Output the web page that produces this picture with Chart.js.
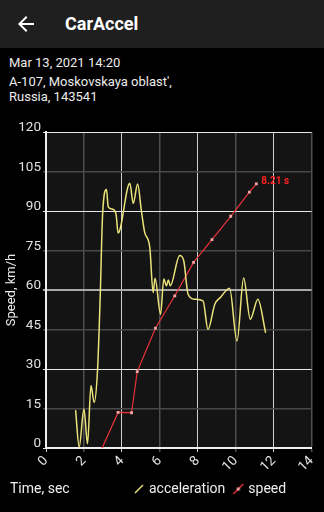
<!DOCTYPE html>
<html>
<head>
<meta charset="utf-8">
<script src="https://cdn.jsdelivr.net/npm/chart.js@4"></script>
<style>
html, body { margin: 0; padding: 0; background: #000; width: 324px; height: 512px; overflow: hidden; font-family: Roboto, sans-serif; color: #ececec; }
.bar { position: absolute; left: 0; top: 0; width: 324px; height: 48px; background: #1f1f1f; }
.bar svg { position: absolute; left: 14px; top: 12px; }
.bar .title { position: absolute; left: 65px; top: 12px; font-size: 18px; font-weight: bold; color: #fff; line-height: 24px; }
.info { position: absolute; left: 9px; font-size: 13px; line-height: 15px; }
#wrap { position: absolute; left: 0; top: 112px; width: 324px; height: 400px; }
</style>
</head>
<body>
<div class="bar">
  <svg width="24" height="24" viewBox="0 0 24 24"><path fill="#fff" d="M20 11H7.83l5.59-5.59L12 4l-8 8 8 8 1.41-1.41L7.83 13H20v-2z"/></svg>
  <span class="title">CarAccel</span>
</div>
<div class="info" style="top:55px">Mar 13, 2021 14:20</div>
<div class="info" style="top:74px">A-107, Moskovskaya oblast',<br>Russia, 143541</div>
<div id="wrap"><canvas id="myChart"></canvas></div>
<script>
// acceleration curve (time in s, plotted on the speed axis)
const accelTime = [1.56, 1.75, 2.0, 2.19, 2.37, 2.54, 2.72, 2.86, 2.98, 3.19, 3.28, 3.54, 3.7, 3.8, 4.42, 4.6, 4.83, 5.03, 5.2, 5.47, 5.65, 5.75, 6.04, 6.21, 6.35, 6.45, 6.55, 7.05, 7.26, 7.49, 7.84, 8.28, 8.54, 8.9, 9.2, 9.68, 10.07, 10.42, 10.77, 11.17, 11.58];
const accelValue = [14.4, 0.4, 14.8, 1.6, 23.7, 17.3, 30, 58, 88, 98.2, 91.6, 90.6, 88.4, 81.6, 100.5, 92.9, 100.3, 90, 82, 76.3, 59, 64.5, 50.8, 64.2, 61.6, 63.8, 61.6, 73.1, 71.2, 58.4, 56.5, 55.9, 45, 54.6, 57.2, 60.7, 40.6, 64.6, 48.9, 56.5, 43.7];

// speed samples
const speedTime = [2.96, 3.8, 4.51, 4.81, 5.77, 6.79, 7.78, 8.75, 9.74, 10.72, 11.09];
const speedValue = [0, 13.5, 13.4, 29.0, 45.5, 57.8, 70.5, 79.1, 88.0, 97.2, 100.3];
const speedLabel = '8.21 s';

const X_MAX = 14, X_STEP = 2;
const Y_MAX = 120, Y_STEP = 15;

function makeIcon(color, dot) {
  const c = document.createElement('canvas');
  c.width = 12; c.height = 12;
  const g = c.getContext('2d');
  g.strokeStyle = color;
  g.lineWidth = 1.5;
  g.beginPath();
  g.moveTo(dot ? 1 : 2, dot ? 11 : 10);
  g.lineTo(dot ? 11 : 10, dot ? 1 : 2);
  g.stroke();
  if (dot) {
    g.fillStyle = '#f7a5a5';
    g.fillRect(4.5, 4.5, 3, 3);
  }
  return c;
}
const legendIcons = [makeIcon('#ece47a', false), makeIcon('#e8333a', true)];

const extras = {
  id: 'extras',
  beforeDraw(chart) {
    const {ctx, chartArea: a} = chart;
    ctx.save();
    ctx.fillStyle = '#141414';
    ctx.fillRect(a.left, a.top, a.right - a.left, a.bottom - a.top);
    ctx.restore();
  },
  afterLayout(chart) {
    const lg = chart.legend;
    const w = lg.right - lg.left, h = lg.bottom - lg.top;
    lg.left = 126; lg.right = lg.left + w;
    lg.top = 360; lg.bottom = lg.top + h;
  },
  afterDraw(chart) {
    const ctx = chart.ctx;
    ctx.save();
    ctx.textBaseline = 'middle';
    ctx.font = '14px Roboto';
    ctx.fillStyle = '#eeeeee';
    ctx.fillText('Time, sec', 10, 377);
    const meta = chart.getDatasetMeta(1);
    const p = meta.data[meta.data.length - 1];
    ctx.font = 'bold 10px Roboto';
    ctx.fillStyle = '#ff2020';
    ctx.fillText(speedLabel, p.x + 5, p.y - 2.5);
    ctx.restore();
  }
};

const ctx = document.getElementById('myChart');
new Chart(ctx, {
  type: 'line',
  data: {
    datasets: [{
      label: 'acceleration',
      data: accelTime.map((t, i) => ({x: t, y: accelValue[i]})),
      borderColor: '#ece47a',
      borderWidth: 1.5,
      pointRadius: 0,
      cubicInterpolationMode: 'monotone',
      fill: false
    }, {
      label: 'speed',
      data: speedTime.map((t, i) => ({x: t, y: speedValue[i]})),
      borderColor: '#e8333a',
      borderWidth: 1.2,
      pointStyle: 'rect',
      pointRadius: c => c.dataIndex === 0 ? 0 : 2,
      pointBackgroundColor: '#f7a5a5',
      pointBorderWidth: 0,
      tension: 0,
      fill: false
    }]
  },
  options: {
    responsive: true,
    maintainAspectRatio: false,
    animation: false,
    layout: { padding: { top: 20, right: 12, bottom: 0, left: 0 } },
    scales: {
      x: {
        type: 'linear',
        min: 0,
        max: X_MAX,
        ticks: { stepSize: X_STEP, minRotation: 45, maxRotation: 45, color: '#e0e0e0', font: { family: 'Roboto', size: 13.5 }, padding: 1 },
        grid: {
          color: c => c.tick && c.tick.value % 4 === 0 ? '#cfcfcf' : '#4d4d4d',
          lineWidth: c => c.tick && c.tick.value % 4 === 0 ? 1 : 1.5,
          tickLength: 4
        },
        border: { color: '#eeeeee', width: 2 },
        afterFit: s => { s.height = 30; }
      },
      y: {
        min: 0,
        max: Y_MAX,
        ticks: { stepSize: Y_STEP, color: '#e0e0e0', font: { family: 'Roboto', size: 13.5 }, padding: 2, labelOffset: -4 },
        grid: {
          color: c => {
            const v = c.tick ? c.tick.value : 0;
            if (v === 60) return '#a8a8a8';
            return v % 30 === 0 ? '#e8e8e8' : '#484848';
          },
          lineWidth: c => {
            const v = c.tick ? c.tick.value : 0;
            if (v === 60) return 2;
            return v % 30 === 0 ? 1 : 1.5;
          },
          tickLength: 3
        },
        border: { color: '#eeeeee', width: 2 },
        title: { display: true, text: 'Speed, km/h', color: '#eeeeee', font: { family: 'Roboto', size: 13 }, padding: { top: 4, bottom: 0 } },
        afterFit: s => { s.width = 46; }
      }
    },
    plugins: {
      legend: {
        position: 'bottom',
        align: 'start',
        labels: {
          usePointStyle: true,
          pointStyleWidth: 6,
          padding: 10,
          color: '#eeeeee',
          font: { family: 'Roboto', size: 14 },
          generateLabels: chart => Chart.defaults.plugins.legend.labels.generateLabels(chart)
            .map((l, i) => Object.assign(l, { pointStyle: legendIcons[i], rotation: 0 }))
        }
      },
      tooltip: { enabled: false }
    }
  },
  plugins: [extras]
});
</script>
</body>
</html>
